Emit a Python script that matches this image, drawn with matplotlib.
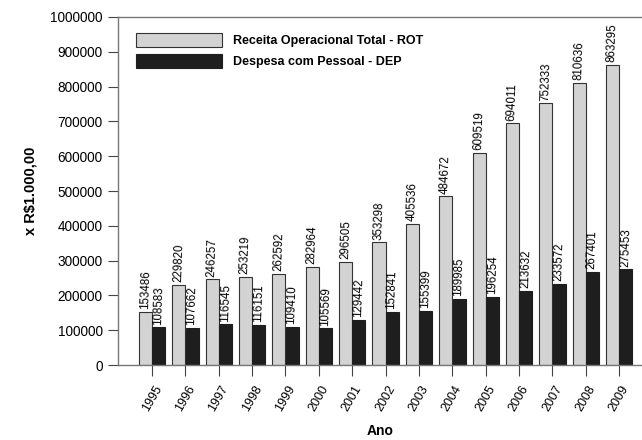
import matplotlib
matplotlib.use("Agg")
import matplotlib.pyplot as plt
import numpy as np

plt.rcParams['font.family'] = ['Liberation Sans', 'DejaVu Sans']

anos = ["1995", "1996", "1997", "1998", "1999", "2000", "2001", "2002",
        "2003", "2004", "2005", "2006", "2007", "2008", "2009"]
rot = [153486, 229820, 246257, 253219, 262592, 282964, 296505, 353298,
       405536, 484672, 609519, 694011, 752333, 810636, 863295]
dep = [108583, 107662, 116545, 116151, 109410, 105569, 129442, 152841,
       155399, 189985, 196254, 213632, 233572, 267401, 275453]
yticks = [0, 100000, 200000, 300000, 400000, 500000, 600000, 700000,
          800000, 900000, 1000000]

fig = plt.figure(figsize=(6.42, 4.4), dpi=100)
ax = fig.add_axes([118/642, 1-365/440, (642-118)/642, (365-17)/440])

x = np.arange(len(anos))
w = 0.39
ax.bar(x - w/2, rot, w, color="#d3d3d3", edgecolor="#333333", linewidth=0.8,
       label="Receita Operacional Total - ROT")
ax.bar(x + w/2 + 0.01, dep, w, color="#1e1e1e", edgecolor="#1e1e1e", linewidth=0.8,
       label="Despesa com Pessoal - DEP")

# rotulos dos valores
for xi, v in zip(x - w/2, rot):
    ax.text(xi, v + 7000, str(v), rotation=88, ha="center", va="bottom",
            fontsize=8.3)
for xi, v in zip(x + w/2 + 0.01, dep):
    ax.text(xi, v + 7000, str(v), rotation=88, ha="center", va="bottom",
            fontsize=8.3)

ax.set_ylim(0, 1000000)
ax.set_xlim(-1.02, len(anos) - 1 + 0.69)
ax.set_yticks(yticks)
ax.set_yticklabels([str(t) for t in yticks])
ax.set_xticks(x)
ax.set_xticklabels(anos, rotation=60, fontsize=9)
ax.tick_params(axis="y", labelsize=9.8, length=7, color="#444444", pad=4)
ax.tick_params(axis="x", length=8, color="#444444", pad=5)
ax.spines["right"].set_visible(False)
for s in ["left", "bottom", "top"]:
    ax.spines[s].set_color("#777777")
    ax.spines[s].set_linewidth(1.0)

ax.set_xlabel("Ano", fontsize=10, fontweight="bold", labelpad=8)
ax.set_ylabel("x R$1.000,00", fontsize=10.5, fontweight="bold", labelpad=9)

ax.legend(loc="upper left", bbox_to_anchor=(0.02, 0.975), frameon=False,
          prop={"weight": "bold", "size": 9}, handlelength=6.9,
          handleheight=1.3, borderaxespad=0.2, labelspacing=0.55,
          handletextpad=0.9)

fig.savefig("out.png", dpi=100)
